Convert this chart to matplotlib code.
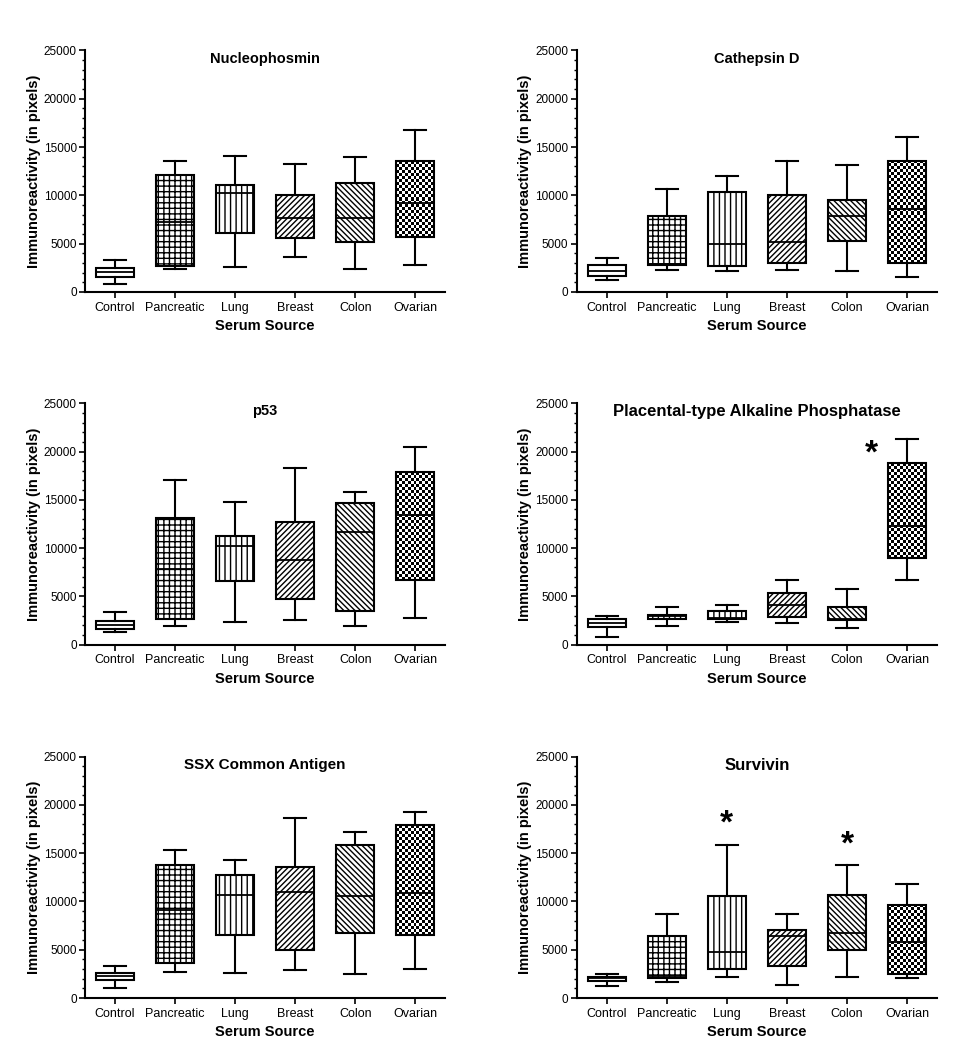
import numpy as np
import matplotlib
matplotlib.use("Agg")
import matplotlib.pyplot as plt
from matplotlib.ticker import MultipleLocator

# 1. data (values = pixel immunoreactivity)
groups = ["Control", "Pancreatic", "Lung", "Breast", "Colon", "Ovarian"]

nuc_low = [800, 2370, 2610, 3580, 2370, 2750]
nuc_q1 = [1510, 2720, 6120, 5540, 5160, 5670]
nuc_med = [2060, 7220, 10250, 7630, 7630, 9220]
nuc_q3 = [2510, 12140, 11040, 10040, 11280, 13520]
nuc_high = [3340, 13520, 14070, 13240, 13960, 16750]

cat_low = [1270, 2270, 2140, 2270, 2140, 1550]
cat_q1 = [1650, 2790, 2650, 2960, 5300, 2960]
cat_med = [2170, 2900, 4920, 5170, 7850, 8540]
cat_q3 = [2820, 7850, 10370, 10060, 9500, 13570]
cat_high = [3510, 10640, 12020, 13570, 13150, 16080]

p53_low = [1290, 1940, 2400, 2540, 1940, 2810]
p53_q1 = [1670, 2640, 6600, 4760, 3510, 6740]
p53_med = [2050, 7880, 10170, 8720, 11670, 13400]
p53_q3 = [2430, 13130, 11250, 12670, 14650, 17920]
p53_high = [3370, 17050, 14760, 18300, 15760, 20420]

plap_low = [830, 1940, 2390, 2250, 1700, 6730]
plap_q1 = [1840, 2640, 2640, 2910, 2530, 9020]
plap_med = [2290, 2980, 2800, 4060, 2640, 12310]
plap_q3 = [2670, 3090, 3540, 5370, 3920, 18830]
plap_high = [2950, 3920, 4060, 6730, 5760, 21260]

ssx_low = [1070, 2730, 2590, 2910, 2460, 3040]
ssx_q1 = [1900, 3600, 6500, 4980, 6710, 6540]
ssx_med = [2280, 9130, 10650, 10930, 10510, 10890]
ssx_q3 = [2630, 13730, 12760, 13590, 15800, 17910]
ssx_high = [3320, 15280, 14280, 18600, 17220, 19230]

sur_low = [1210, 1660, 2180, 1350, 2180, 2080]
sur_q1 = [1760, 2040, 3010, 3320, 4980, 2490]
sur_med = [2080, 2250, 4770, 6400, 6740, 5810]
sur_q3 = [2210, 6400, 10550, 7090, 10650, 9680]
sur_high = [2460, 8680, 15800, 8680, 13730, 11760]

# significance stars (group index, height)
plap_star_x = [4.4]
plap_star_y = [19700]
sur_star_x = [2, 4]
sur_star_y = [18000, 15800]

# 2. panel list
panels = [
    ("Nucleophosmin", 10.5, nuc_low, nuc_q1, nuc_med, nuc_q3, nuc_high, [], []),
    ("Cathepsin D", 10.5, cat_low, cat_q1, cat_med, cat_q3, cat_high, [], []),
    ("p53", 10.5, p53_low, p53_q1, p53_med, p53_q3, p53_high, [], []),
    ("Placental-type Alkaline Phosphatase", 12, plap_low, plap_q1, plap_med, plap_q3, plap_high,
     plap_star_x, plap_star_y),
    ("SSX Common Antigen", 11, ssx_low, ssx_q1, ssx_med, ssx_q3, ssx_high, [], []),
    ("Survivin", 12, sur_low, sur_q1, sur_med, sur_q3, sur_high, sur_star_x, sur_star_y),
]

hatches = [None, "+++", "|||", "//////", "\\\\\\\\\\\\", None]

plt.rcParams["font.family"] = ["Liberation Sans", "DejaVu Sans"]
plt.rcParams["hatch.linewidth"] = 1.0
plt.rcParams["hatch.color"] = "black"

fig = plt.figure(figsize=(9.66, 10.5), dpi=100)

# axes positions [left, bottom, width, height]
lefts = [0.088, 0.597]
bottoms = [0.722, 0.386, 0.0495]
w_ax = 0.373
h_ax = 0.230

box_w = 0.63
cap_w = 0.36

for i, (title, tsize, lo, q1, med, q3, hi, sx, sy) in enumerate(panels):
    ax = fig.add_axes([lefts[i % 2], bottoms[i // 2], w_ax, h_ax])

    stats = []
    for k in range(len(groups)):
        stats.append({"whislo": lo[k], "q1": q1[k], "med": med[k], "q3": q3[k],
                      "whishi": hi[k], "fliers": [], "label": groups[k]})

    pos = np.arange(len(groups))
    bp = ax.bxp(stats, positions=pos, widths=box_w, capwidths=cap_w, patch_artist=True,
                showfliers=False,
                boxprops=dict(linewidth=1.5, edgecolor="black", facecolor="white"),
                whiskerprops=dict(linewidth=1.5, color="black"),
                capprops=dict(linewidth=1.5, color="black"),
                medianprops=dict(linewidth=1.3, color="black"))

    for k, box in enumerate(bp["boxes"]):
        if hatches[k]:
            box.set_hatch(hatches[k])

    # checkerboard fill for the ovarian box
    ov = bp["boxes"][5]
    ov.set_facecolor("none")
    h_px = (q3[5] - q1[5]) / 25000 * h_ax * 1050
    rows = max(2, int(round(h_px / 3.0)))
    cols = 13
    board = np.indices((rows, cols)).sum(axis=0) % 2
    im = ax.imshow(board, cmap="binary", extent=(5 - box_w / 2, 5 + box_w / 2, q1[5], q3[5]),
                   aspect="auto", interpolation="nearest", zorder=1)
    im.set_clip_path(ov)

    # stars
    for x, y in zip(sx, sy):
        ax.text(x, y, "*", fontsize=24, fontweight="bold", ha="center", va="center")

    ax.set_xlim(-0.5, 5.5)
    ax.set_ylim(0, 25000)
    ax.set_xticks(pos)
    ax.set_xticklabels(groups, fontsize=9)
    ax.set_yticks([0, 5000, 10000, 15000, 20000, 25000])
    ax.yaxis.set_minor_locator(MultipleLocator(1000))
    ax.tick_params(axis="y", labelsize=8.5, length=4, width=1.2, pad=2)
    ax.tick_params(axis="y", which="minor", length=2, width=1)
    ax.tick_params(axis="x", length=4, width=1.2, pad=3)

    for s in ["top", "right"]:
        ax.spines[s].set_visible(False)
    for s in ["left", "bottom"]:
        ax.spines[s].set_linewidth(1.5)

    ax.set_xlabel("Serum Source", fontsize=10.5, fontweight="bold", labelpad=4)
    ax.set_ylabel("Immunoreactivity (in pixels)", fontsize=10.5, fontweight="bold", labelpad=2)
    ax.text(0.5, 0.995, title, transform=ax.transAxes, ha="center", va="top",
            fontsize=tsize, fontweight="bold")

fig.savefig("out.png", dpi=100, facecolor="white")
